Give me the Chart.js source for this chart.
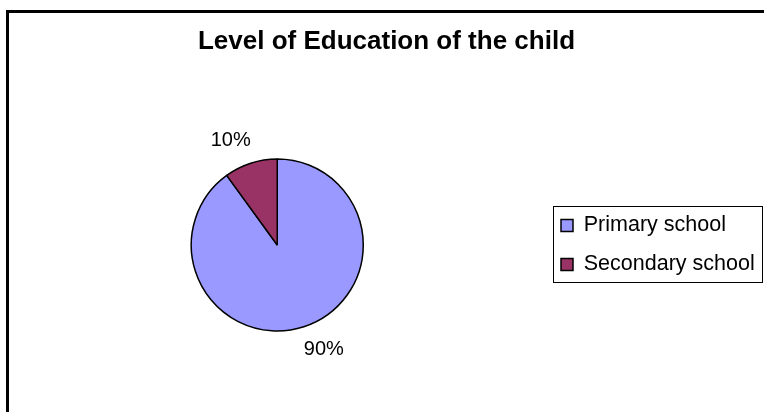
<!DOCTYPE html>
<html><head><meta charset="utf-8">
<script src="https://cdn.jsdelivr.net/npm/chart.js@4.4.1/dist/chart.umd.min.js"></script>
<style>
html,body{margin:0;padding:0;width:764px;height:412px;overflow:hidden;background:#fff;}
#frame{position:absolute;left:6px;top:10px;width:800px;height:500px;border-left:3px solid #000;border-top:3px solid #000;}
#c{position:absolute;left:0;top:0;}
</style></head><body>
<div id="frame"></div>
<canvas id="c" width="764" height="412"></canvas>
<script>
// ---- data ----
const categories = ['Primary school', 'Secondary school'];
const values = [90, 10];
const colors = ['#9999FF', '#993366'];
const titleText = 'Level of Education of the child';

// ---- layout constants ----
const FONT = "'Liberation Sans', Arial, sans-serif";
const LEGEND_WIDTH = 218.5;

const legendWidthFix = {
  id: 'legendWidthFix',
  beforeLayout(chart) {
    const lg = chart.legend;
    if (lg && !lg._wFixed) {
      const fit = lg.fit;
      lg.fit = function () { fit.call(this); if (this.options.display) this.width = LEGEND_WIDTH; };
      lg._wFixed = true;
    }
  }
};

const legendFrame = {
  id: 'legendFrame',
  afterDraw(chart) {
    const hb = chart.legend && chart.legend.legendHitBoxes;
    if (!hb || !hb.length) return;
    const ctx = chart.ctx;
    const left = Math.min(...hb.map(h => h.left)) - 8;
    const right = Math.max(...hb.map(h => h.left + h.width)) + 7;
    const top = Math.min(...hb.map(h => h.top)) - 9;
    const bottom = Math.max(...hb.map(h => h.top + h.height)) + 6;
    ctx.save();
    ctx.strokeStyle = '#000';
    ctx.lineWidth = 1;
    ctx.strokeRect(Math.round(left) + 0.5, Math.round(top) + 0.5, Math.round(right - left), Math.round(bottom - top));
    ctx.restore();
  }
};

const pieLabels = {
  id: 'pieLabels',
  afterDatasetsDraw(chart) {
    const ctx = chart.ctx;
    const meta = chart.getDatasetMeta(0);
    const data = chart.data.datasets[0].data;
    const total = data.reduce((a, b) => a + b, 0);
    ctx.save();
    ctx.font = '20px ' + FONT;
    ctx.fillStyle = '#000';
    ctx.textBaseline = 'middle';
    meta.data.forEach((arc, i) => {
      const p = arc.getProps(['x', 'y', 'startAngle', 'endAngle', 'outerRadius'], true);
      const mid = (p.startAngle + p.endAngle) / 2;
      const cos = Math.cos(mid), sin = Math.sin(mid);
      const x = p.x + p.outerRadius * cos;
      const y = p.y + (p.outerRadius + 13) * sin + (sin >= 0 ? 10 : -10);
      ctx.textAlign = cos >= 0 ? 'left' : 'right';
      ctx.fillText(Math.round(data[i] / total * 100) + '%', x, y);
    });
    ctx.restore();
  }
};

Chart.defaults.color = '#000';
Chart.defaults.font.family = FONT;

new Chart(document.getElementById('c'), {
  type: 'pie',
  data: {
    labels: categories,
    datasets: [{
      data: values,
      backgroundColor: colors,
      borderColor: '#000',
      borderWidth: 1.5,
      radius: 86
    }]
  },
  options: {
    responsive: false,
    animation: false,
    devicePixelRatio: 1,
    events: [],
    layout: { padding: { left: 11, right: 2, top: 0, bottom: 0 } },
    plugins: {
      tooltip: { enabled: false },
      title: {
        display: true,
        text: titleText,
        color: '#000',
        font: { size: 26, weight: 'bold', family: FONT },
        padding: { top: 26.4, bottom: 20.4 }
      },
      legend: {
        display: true,
        position: 'right',
        fullSize: false,
        labels: {
          boxWidth: 12,
          boxHeight: 12,
          padding: 17.5,
          color: '#000',
          font: { size: 21.5, family: FONT }
        }
      }
    }
  },
  plugins: [legendWidthFix, legendFrame, pieLabels]
});
</script>
</body></html>
